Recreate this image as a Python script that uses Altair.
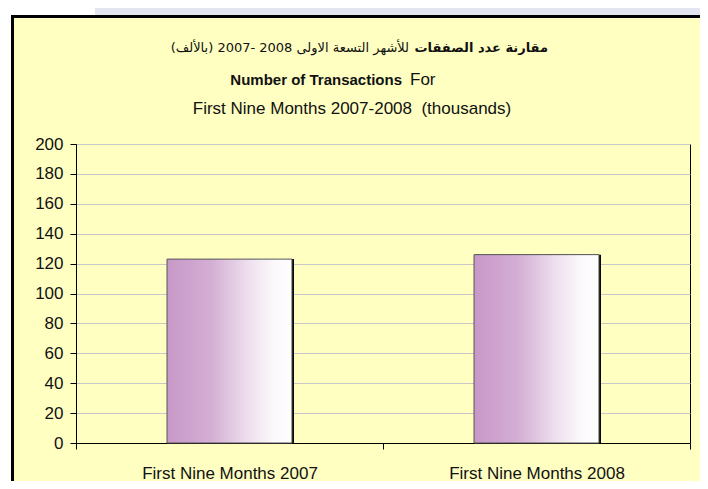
import altair as alt
import pandas as pd

# ---- data ----
categories = ["First Nine Months 2007", "First Nine Months 2008"]
transactions = [123, 126]
y_ticks = [0, 20, 40, 60, 80, 100, 120, 140, 160, 180, 200]

title_ar_bold = "مقارنة عدد الصفقات"
title_ar_rest = "للأشهر التسعة الاولى 2008 -2007 (بالألف)\u200f"
title_en_bold = "Number of Transactions"
title_en_rest = "For"
title_line3 = "First Nine Months 2007-2008 \u00a0(thousands)"

df = pd.DataFrame({"period": categories, "value": transactions})
one = pd.DataFrame({"k": [0]})

W, H = 614, 299
OX, OY = 76, 144  # plot origin on page
FONT = "Liberation Sans"
TXT = "#111111"


def px(x):
    return alt.value(x - OX)


def py(y):
    return alt.value(y - OY)


x_enc = alt.X(
    "period:N",
    sort=categories,
    scale=alt.Scale(paddingInner=0, paddingOuter=0),
    axis=alt.Axis(
        title=None, labelAngle=0, tickBand="extent", grid=False,
        domainColor="black", tickColor="black", tickSize=6,
        labelPadding=16, labelFontSize=17, labelFont=FONT, labelColor=TXT,
    ),
)
y_enc = alt.Y(
    "value:Q",
    scale=alt.Scale(domain=[0, 200], nice=False),
    axis=alt.Axis(
        title=None, values=y_ticks, grid=True, gridColor="#C8C8C8",
        domainColor="black", tickColor="black", tickSize=6,
        labelPadding=7, labelFontSize=17, labelFont=FONT, labelColor=TXT,
    ),
)

base = alt.Chart(df)
bw = alt.RelativeBandSize(0.407)

shadow = base.mark_bar(color="black", width=bw, xOffset=2).encode(x=x_enc, y=y_enc)

grad = alt.Gradient(
    gradient="linear",
    stops=[
        alt.GradientStop(color="#C898C8", offset=0),
        alt.GradientStop(color="#D3AED3", offset=0.35),
        alt.GradientStop(color="#EEDFEE", offset=0.65),
        alt.GradientStop(color="#FBF8FB", offset=0.85),
        alt.GradientStop(color="#FFFFFF", offset=1),
    ],
    x1=0, x2=1, y1=0, y2=0,
)
bars = base.mark_bar(fill=grad, stroke="#555555", strokeWidth=1, width=bw).encode(x=x_enc, y=y_enc)

deco = alt.Chart(one)
white_left = deco.mark_rect(color="white").encode(x=px(8), x2=px(11), y=py(8), y2=py(481))
white_top = deco.mark_rect(color="white").encode(x=px(8), x2=px(95), y=py(8), y2=py(15))
blue_top = deco.mark_rect(color="#E3E6F0").encode(x=px(95), x2=px(700), y=py(8), y2=py(15))
border_top = deco.mark_rect(color="black").encode(x=px(11), x2=px(700), y=py(15), y2=py(18))
border_left = deco.mark_rect(color="black").encode(x=px(11), x2=px(14), y=py(15), y2=py(481))

t1b = deco.mark_text(align="right", baseline="middle", fontSize=13, font="DejaVu Sans",
                     fontWeight="bold", color=TXT).encode(x=px(548), y=py(48), text=alt.value(title_ar_bold))
t1r = deco.mark_text(align="right", baseline="middle", fontSize=13, font="DejaVu Sans",
                     color=TXT).encode(x=px(409), y=py(48), text=alt.value(title_ar_rest))
t2b = deco.mark_text(align="right", baseline="middle", fontSize=15, font=FONT,
                     fontWeight="bold", color=TXT).encode(x=px(402), y=py(80), text=alt.value(title_en_bold))
t2r = deco.mark_text(align="left", baseline="middle", fontSize=17, font=FONT,
                     color=TXT).encode(x=px(410), y=py(80), text=alt.value(title_en_rest))
t3 = deco.mark_text(align="center", baseline="middle", fontSize=17, font=FONT,
                    color=TXT).encode(x=px(352), y=py(109), text=alt.value(title_line3))

chart = (
    alt.layer(shadow, bars, white_left, white_top, blue_top, border_top, border_left,
              t1b, t1r, t2b, t2r, t3)
    .properties(width=W, height=H, autosize=alt.AutoSizeParams(type="none"),
                padding={"left": 68, "top": 136, "right": 10, "bottom": 38})
    .configure(background="#FFFFC2")
    .configure_view(stroke="black", strokeWidth=1)
)

chart.save("out.html", embed_options={"renderer": "svg", "actions": False})
